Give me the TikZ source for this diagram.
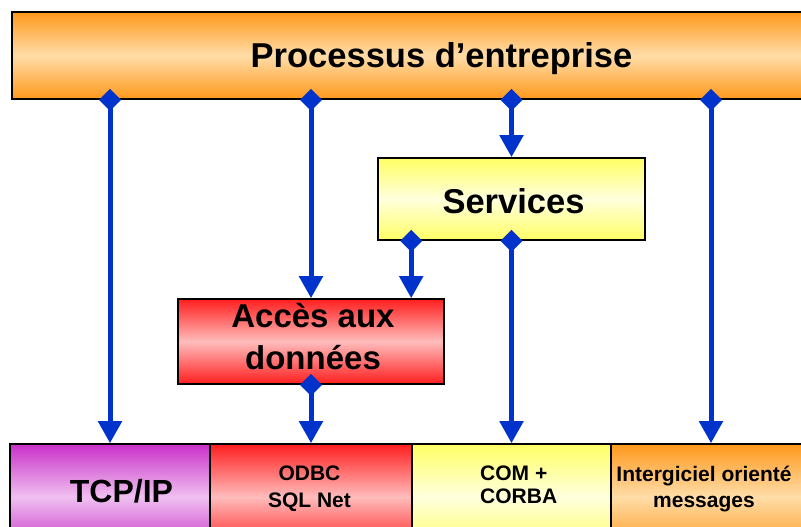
\documentclass[tikz,border=0pt]{standalone}
\usepackage{fontspec}
\setmainfont{Liberation Sans}
\usetikzlibrary{arrows.meta,calc}
\definecolor{orDark}{RGB}{255,152,28}
\definecolor{orLight}{RGB}{255,221,168}
\definecolor{yeDark}{RGB}{255,255,100}
\definecolor{yeLight}{RGB}{255,255,222}
\definecolor{reDark}{RGB}{255,30,30}
\definecolor{reLight}{RGB}{255,188,188}
\definecolor{puDark}{RGB}{200,48,200}
\definecolor{puLight}{RGB}{240,192,240}
\definecolor{connBlue}{RGB}{0,51,204}
\tikzset{
  box/.style={draw=black, line width=1.6pt, rectangle, inner sep=0pt},
  orbox/.style={box, top color=orDark, bottom color=orDark, middle color=orLight},
  yebox/.style={box, top color=yeDark, bottom color=yeDark, middle color=yeLight},
  rebox/.style={box, top color=reDark, bottom color=reDark, middle color=reLight},
  pubox/.style={box, top color=puDark, bottom color=puDark, middle color=puLight},
  lbl/.style={inner sep=0pt, font=\bfseries},
  conn/.style={draw=connBlue, line width=5pt,
    {Diamond[length=22pt,width=22pt,fill=connBlue]}-{Triangle[length=22pt,width=23pt,fill=connBlue]},
    shorten <=-11pt}
}
\begin{document}
\begin{tikzpicture}[x=1pt,y=-1pt]
\useasboundingbox (0,0) rectangle (801,527);
\begin{scope}
\clip (0,0) rectangle (801,527);
% boxes
\node[orbox, minimum width=859pt, minimum height=87pt] (proc) at (441.5,55.5) {};
\node[yebox, minimum width=267pt, minimum height=82pt] (serv) at (511.5,199) {};
\node[rebox, minimum width=266pt, minimum height=85pt] (acces) at (311,341.5) {};
\node[pubox, minimum width=200pt, minimum height=106pt] (tcp) at (110,497) {};
\node[rebox, minimum width=202pt, minimum height=106pt] (odbc) at (311,497) {};
\node[yebox, minimum width=199pt, minimum height=106pt] (com) at (511.5,497) {};
\node[orbox, minimum width=200pt, minimum height=106pt] (inter) at (711,497) {};
% texts
\node[lbl, anchor=base, font=\bfseries\fontsize{34.5}{40}\selectfont] (proctext) at (441.5,68) {Processus d’entreprise};
\node[lbl, anchor=base, font=\bfseries\fontsize{34.5}{40}\selectfont] (servtext) at (513.5,213) {Services};
\node[lbl, anchor=base, align=center, font=\bfseries\fontsize{33}{42}\selectfont] (accestext) at (313,369) {Accès aux\\données};
\node[lbl, anchor=base, font=\bfseries\fontsize{32}{38}\selectfont] (tcptext) at (121.5,502) {TCP/IP};
\node[lbl, anchor=base, align=center, font=\bfseries\fontsize{21}{27}\selectfont] (odbctext) at (309.5,507) {ODBC\\SQL Net};
\node[lbl, anchor=base west, align=left, font=\bfseries\fontsize{21}{23}\selectfont] (comtext) at (480,503) {COM +\\CORBA};
\node[lbl, anchor=base, align=center, font=\bfseries\fontsize{21}{26}\selectfont] (intertext) at (704,507) {Intergiciel orienté\\messages};
\end{scope}
% connectors
\draw[conn] (proc.south -| tcp.north) -- (tcp.north);
\draw[conn] (proc.south -| acces.north) -- (acces.north);
\draw[conn] (proc.south -| serv.north) -- (serv.north);
\draw[conn] (proc.south -| inter.north) -- (inter.north);
\draw[conn] ([xshift=34pt]serv.south west) -- ([xshift=34pt]serv.south west |- acces.north);
\draw[conn] (serv.south) -- (serv.south |- com.north);
\draw[conn] (acces.south) -- (acces.south |- odbc.north);
\end{tikzpicture}
\end{document}
